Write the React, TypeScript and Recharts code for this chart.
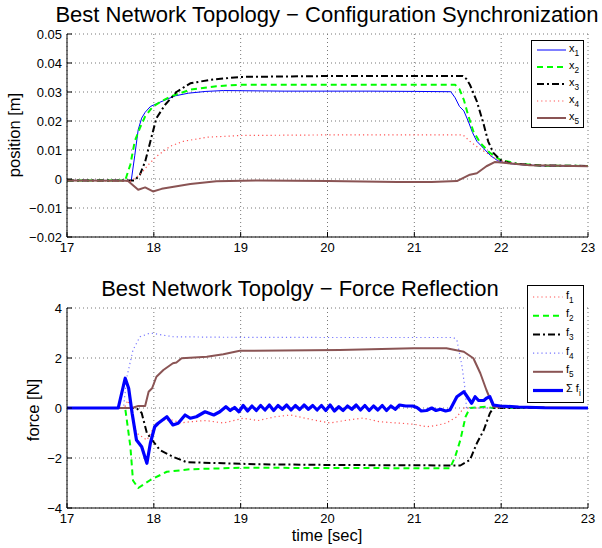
import React from 'react';
import { LineChart, Line, XAxis, YAxis, CartesianGrid } from 'recharts';

type Pt = [number, number];

const FONT = '"Liberation Sans", Arial, Helvetica, sans-serif';

const timeTicks = [17, 18, 19, 20, 21, 22, 23];
const posTicks = [-0.02, -0.01, 0, 0.01, 0.02, 0.03, 0.04, 0.05];
const forceTicks = [-4, -2, 0, 2, 4];

// top panel: positions [m] vs time [sec]
const x1: Pt[] = [
  [17, -0.0005], [17.74, -0.0005], [17.78, 0.008], [17.82, 0.017], [17.86, 0.021], [17.9, 0.023],
  [17.96, 0.025], [18.05, 0.0262], [18.15, 0.0275], [18.25, 0.0287], [18.4, 0.0296], [18.6, 0.0302],
  [18.8, 0.0305], [19.5, 0.0303], [20.5, 0.0303], [21.0, 0.0302], [21.42, 0.0301], [21.47, 0.028],
  [21.52, 0.025], [21.57, 0.0235], [21.62, 0.02], [21.67, 0.016], [21.72, 0.013], [21.8, 0.0105],
  [21.88, 0.008], [21.96, 0.0063], [22.05, 0.0055], [22.2, 0.005], [22.5, 0.0045], [23, 0.0044],
];
const x2: Pt[] = [
  [17, -0.0005], [17.67, -0.0005], [17.73, 0.005], [17.78, 0.013], [17.84, 0.0176], [17.9, 0.0216],
  [17.99, 0.025], [18.1, 0.027], [18.2, 0.0285], [18.42, 0.0308], [18.72, 0.032], [19, 0.0325],
  [20, 0.0325], [21.47, 0.0325], [21.52, 0.031], [21.57, 0.0273], [21.62, 0.022], [21.68, 0.0164],
  [21.76, 0.0124], [21.87, 0.009], [21.99, 0.0066], [22.18, 0.0053], [22.5, 0.0046], [23, 0.0045],
];
const x3: Pt[] = [
  [17, -0.0005], [17.78, -0.0005], [17.84, 0.0015], [17.9, 0.006], [17.98, 0.0153], [18.03, 0.021],
  [18.13, 0.0256], [18.26, 0.03], [18.42, 0.033], [18.65, 0.0342], [19, 0.0352], [20, 0.0355],
  [21.56, 0.0355], [21.6, 0.0345], [21.64, 0.0325], [21.72, 0.0268], [21.8, 0.0187], [21.85, 0.013],
  [21.91, 0.009], [21.99, 0.0066], [22.1, 0.0055], [22.4, 0.0047], [23, 0.0045],
];
const x4: Pt[] = [
  [17, -0.0005], [17.73, -0.0008], [17.84, 0.0015], [17.94, 0.005], [18.03, 0.0078], [18.19, 0.0113],
  [18.34, 0.013], [18.61, 0.0144], [19, 0.015], [20, 0.0152], [21.56, 0.0152], [21.64, 0.013],
  [21.74, 0.0107], [21.83, 0.009], [21.95, 0.0067], [22.1, 0.0055], [22.4, 0.0047], [23, 0.0045],
];
const x5: Pt[] = [
  [17, -0.0005], [17.7, -0.0006], [17.82, -0.0037], [17.9, -0.0029], [17.99, -0.0043], [18.09, -0.0034],
  [18.42, -0.0017], [18.72, -0.0008], [19.2, -0.0005], [20, -0.0007], [20.8, -0.001], [21.2, -0.001],
  [21.49, -0.0007], [21.64, 0.0015], [21.72, 0.002], [21.83, 0.0044], [21.93, 0.0059], [22.06, 0.0055],
  [22.33, 0.0047], [23, 0.0044],
];

// bottom panel: forces [N] vs time [sec]
const f1: Pt[] = [
  [17, 0], [17.66, 0], [17.7, 0.3], [17.74, 0], [17.8, -1.0], [17.92, -1.28], [18.03, -0.6], [18.1, -0.5],
  [18.22, -0.48], [18.3, -0.6], [18.42, -0.55], [18.6, -0.5], [18.8, -0.6], [19.03, -0.41], [19.2, -0.5],
  [19.4, -0.35], [19.57, -0.28], [19.8, -0.45], [20.03, -0.6], [20.2, -0.5], [20.41, -0.4], [20.6, -0.55],
  [20.8, -0.6], [21.0, -0.65], [21.14, -0.75], [21.25, -0.7], [21.37, -0.6], [21.49, -0.35], [21.57, 0],
  [23, 0],
];
const f2: Pt[] = [
  [17, 0], [17.67, 0], [17.73, -1.55], [17.76, -2.9], [17.82, -3.2], [17.96, -2.88], [18.15, -2.55],
  [18.42, -2.45], [19, -2.39], [20, -2.4], [21.41, -2.41], [21.47, -1.95], [21.53, -1.28], [21.59, -0.35],
  [21.64, 0], [21.83, 0.05], [21.9, 0], [23, 0],
];
const f3: Pt[] = [
  [17, 0], [17.8, 0], [17.86, -0.2], [17.92, -1.0], [17.98, -1.28], [18.07, -1.68], [18.22, -1.95],
  [18.38, -2.17], [18.8, -2.21], [19.19, -2.25], [20.1, -2.28], [21.53, -2.3], [21.64, -2.08],
  [21.72, -1.41], [21.8, -0.88], [21.87, -0.21], [21.91, 0], [23, 0],
];
const f4: Pt[] = [
  [17, 0], [17.65, 0], [17.69, 1.25], [17.76, 2.32], [17.84, 2.85], [17.96, 3.0], [18.22, 2.85],
  [18.8, 2.83], [20, 2.82], [21.45, 2.82], [21.49, 2.72], [21.55, 1.65], [21.59, 0.59], [21.6, 0], [23, 0],
];
const f5: Pt[] = [
  [17, 0], [17.75, 0], [17.82, 0.08], [17.9, 0.08], [17.94, 0.65], [17.98, 0.79], [18.03, 1.25],
  [18.11, 1.52], [18.22, 1.79], [18.26, 1.82], [18.32, 1.99], [18.61, 2.05], [18.8, 2.15], [18.99, 2.29],
  [20.14, 2.32], [20.99, 2.39], [21.37, 2.39], [21.57, 2.25], [21.68, 1.99], [21.76, 1.39], [21.83, 0.72],
  [21.91, 0.05], [22.2, 0.03], [23, 0],
];
const fSum: Pt[] = [
  [17, 0], [17.59, 0], [17.67, 1.19], [17.71, 0.79], [17.75, -0.21], [17.8, -1.28], [17.86, -1.55],
  [17.92, -2.21], [17.96, -1.41], [18.01, -0.75], [18.05, -0.61], [18.15, -0.35], [18.22, -0.68],
  [18.28, -0.61], [18.36, -0.28], [18.42, -0.41], [18.49, -0.35], [18.59, -0.15], [18.69, -0.28],
  [18.76, -0.15], [18.83, 0.05], [18.88, -0.1], [18.93, 0.02], [18.98, -0.15], [19.03, 0.1], [19.08, -0.12],
  [19.13, 0.08], [19.18, -0.1], [19.23, 0.1], [19.28, -0.08], [19.33, 0.12], [19.38, -0.1], [19.43, 0.1],
  [19.48, -0.05], [19.53, 0.12], [19.58, -0.08], [19.63, 0.1], [19.68, -0.06], [19.73, 0.12], [19.78, -0.05],
  [19.83, 0.1], [19.88, -0.08], [19.93, 0.1], [19.98, -0.1], [20.03, 0.12], [20.08, -0.12], [20.13, 0.05],
  [20.18, -0.1], [20.23, 0.08], [20.28, -0.05], [20.33, 0.12], [20.38, -0.08], [20.43, 0.1], [20.48, -0.1],
  [20.53, 0.08], [20.58, -0.08], [20.63, 0.1], [20.68, -0.1], [20.73, 0.08], [20.78, -0.05], [20.83, 0.12],
  [20.9, 0.08], [20.98, 0.08], [21.03, 0.02], [21.08, -0.12], [21.14, -0.1], [21.2, 0.0], [21.25, -0.1],
  [21.3, -0.05], [21.36, -0.12], [21.41, -0.08], [21.49, 0.45], [21.57, 0.65], [21.61, 0.45], [21.66, 0.19],
  [21.7, 0.45], [21.74, 0.3], [21.8, 0.3], [21.83, 0.39], [21.87, 0.45], [21.91, 0.12], [21.99, 0.08],
  [22.2, 0.04], [22.5, 0.01], [23, 0],
];

interface Series {
  name: string;
  sub: string;
  prefix?: string;
  pts: Pt[];
  color: string;
  width: number;
  dash?: string;
}

const posSeries: Series[] = [
  { name: 'x', sub: '1', pts: x1, color: '#0000ff', width: 1 },
  { name: 'x', sub: '2', pts: x2, color: '#00ff00', width: 2, dash: '6 4' },
  { name: 'x', sub: '3', pts: x3, color: '#000000', width: 2, dash: '7 3 2 3' },
  { name: 'x', sub: '4', pts: x4, color: '#ff5555', width: 1.2, dash: '1.2 3' },
  { name: 'x', sub: '5', pts: x5, color: '#8a5454', width: 2 },
];

const forceSeries: Series[] = [
  { name: 'f', sub: '1', pts: f1, color: '#ff5555', width: 1.2, dash: '1.2 3' },
  { name: 'f', sub: '2', pts: f2, color: '#00ff00', width: 2, dash: '6 4' },
  { name: 'f', sub: '3', pts: f3, color: '#000000', width: 2, dash: '7 3 2 3' },
  { name: 'f', sub: '4', pts: f4, color: '#7777ff', width: 1.2, dash: '1.2 3' },
  { name: 'f', sub: '5', pts: f5, color: '#8a5454', width: 2 },
  { name: 'f', sub: 'i', prefix: '\u03a3 ', pts: fSum, color: '#0000ff', width: 3.2 },
];

const fmt = (v: number) => (v < 0 ? '\u2212' + Math.abs(v) : String(v));
const rows = (pts: Pt[]) => pts.map(([t, v]) => ({ t, v }));

const tickStyle = { fontSize: 13, fill: '#000', fontFamily: FONT };

function Panel(props: {
  series: Series[];
  ticks: number[];
  domain: [number, number];
  height: number;
  top: number;
  margin: { top: number; right: number; bottom: number; left: number };
}) {
  const { series, ticks, domain, height, top, margin } = props;
  return (
    <div style={{ position: 'absolute', left: 0, top, width: 602, height }}>
      <LineChart width={602} height={height} margin={margin}>
        <CartesianGrid stroke="#777" strokeDasharray="1 3" />
        <XAxis
          type="number"
          dataKey="t"
          domain={[17, 23]}
          ticks={timeTicks}
          allowDataOverflow
          height={25}
          stroke="#000"
          tickSize={-5}
          tickMargin={11}
          tick={tickStyle}
          interval={0}
        />
        <XAxis
          xAxisId="top"
          orientation="top"
          type="number"
          dataKey="t"
          domain={[17, 23]}
          ticks={timeTicks}
          allowDataOverflow
          height={0}
          stroke="#000"
          tickSize={-5}
          tick={false}
        />
        <YAxis
          type="number"
          domain={domain}
          ticks={ticks}
          allowDataOverflow
          width={50}
          stroke="#000"
          tickSize={-5}
          tickMargin={10}
          tick={tickStyle}
          tickFormatter={fmt}
          interval={0}
        />
        <YAxis
          yAxisId="right"
          orientation="right"
          type="number"
          domain={domain}
          ticks={ticks}
          allowDataOverflow
          width={0}
          stroke="#000"
          tickSize={-5}
          tick={false}
        />
        {series.map((s) => (
          <Line
            key={s.name + s.sub}
            data={rows(s.pts)}
            dataKey="v"
            type="linear"
            stroke={s.color}
            strokeWidth={s.width}
            strokeDasharray={s.dash}
            dot={false}
            activeDot={false}
            isAnimationActive={false}
            strokeLinejoin="round"
          />
        ))}
      </LineChart>
    </div>
  );
}

function LegendBox(props: {
  series: Series[];
  left: number;
  top: number;
  width: number;
  height: number;
  firstY: number;
  step: number;
  lineX: [number, number];
  fontSize: number;
}) {
  const { series, left, top, width, height, firstY, step, lineX, fontSize } = props;
  return (
    <svg
      width={width}
      height={height}
      style={{ position: 'absolute', left, top, fontFamily: FONT }}
    >
      <rect x={0.5} y={0.5} width={width - 1} height={height - 1} fill="#fff" stroke="#000" strokeWidth={1} />
      {series.map((s, i) => {
        const y = firstY + i * step;
        return (
          <g key={s.name + s.sub}>
            <line
              x1={lineX[0]}
              x2={lineX[1]}
              y1={y}
              y2={y}
              stroke={s.color}
              strokeWidth={s.width}
              strokeDasharray={s.dash}
            />
            <text x={lineX[1] + 3} y={y + 1.5} fontSize={fontSize} fill="#000">
              {s.prefix}
              {s.name}
              <tspan fontSize={fontSize * 0.75} dy={4}>
                {s.sub}
              </tspan>
            </text>
          </g>
        );
      })}
    </svg>
  );
}

export default function App() {
  return (
    <div
      style={{
        position: 'absolute',
        left: 0,
        top: 0,
        width: 602,
        height: 548,
        background: '#fff',
        fontFamily: FONT,
      }}
    >
      <Panel
        series={posSeries}
        ticks={posTicks}
        domain={[-0.02, 0.05]}
        height={270}
        top={0}
        margin={{ top: 34, right: 14, bottom: 8, left: 17 }}
      />
      <Panel
        series={forceSeries}
        ticks={forceTicks}
        domain={[-4, 4]}
        height={278}
        top={270}
        margin={{ top: 38, right: 14, bottom: 15, left: 17 }}
      />
      <LegendBox
        series={posSeries}
        left={531}
        top={40}
        width={53}
        height={88}
        firstY={10}
        step={17}
        lineX={[6, 35]}
        fontSize={11}
      />
      <LegendBox
        series={forceSeries}
        left={527}
        top={285}
        width={57}
        height={118}
        firstY={12}
        step={18.7}
        lineX={[6, 36]}
        fontSize={11}
      />
      <svg
        width={602}
        height={548}
        style={{ position: 'absolute', left: 0, top: 0, pointerEvents: 'none', fontFamily: FONT }}
      >
        <text x={327} y={22} textAnchor="middle" fontSize={22} fill="#000">
          Best Network Topology {'\u2212'} Configuration Synchronization
        </text>
        <text x={300} y={296} textAnchor="middle" fontSize={22} fill="#000">
          Best Network Topolgy {'\u2212'} Force Reflection
        </text>
        <text x={327} y={541} textAnchor="middle" fontSize={16.5} fill="#000">
          time [sec]
        </text>
        <text x={20} y={135} textAnchor="middle" fontSize={16.5} fill="#000" transform="rotate(-90 20 135)">
          position [m]
        </text>
        <text x={39} y={410} textAnchor="middle" fontSize={16.5} fill="#000" transform="rotate(-90 39 410)">
          force [N]
        </text>
      </svg>
    </div>
  );
}
